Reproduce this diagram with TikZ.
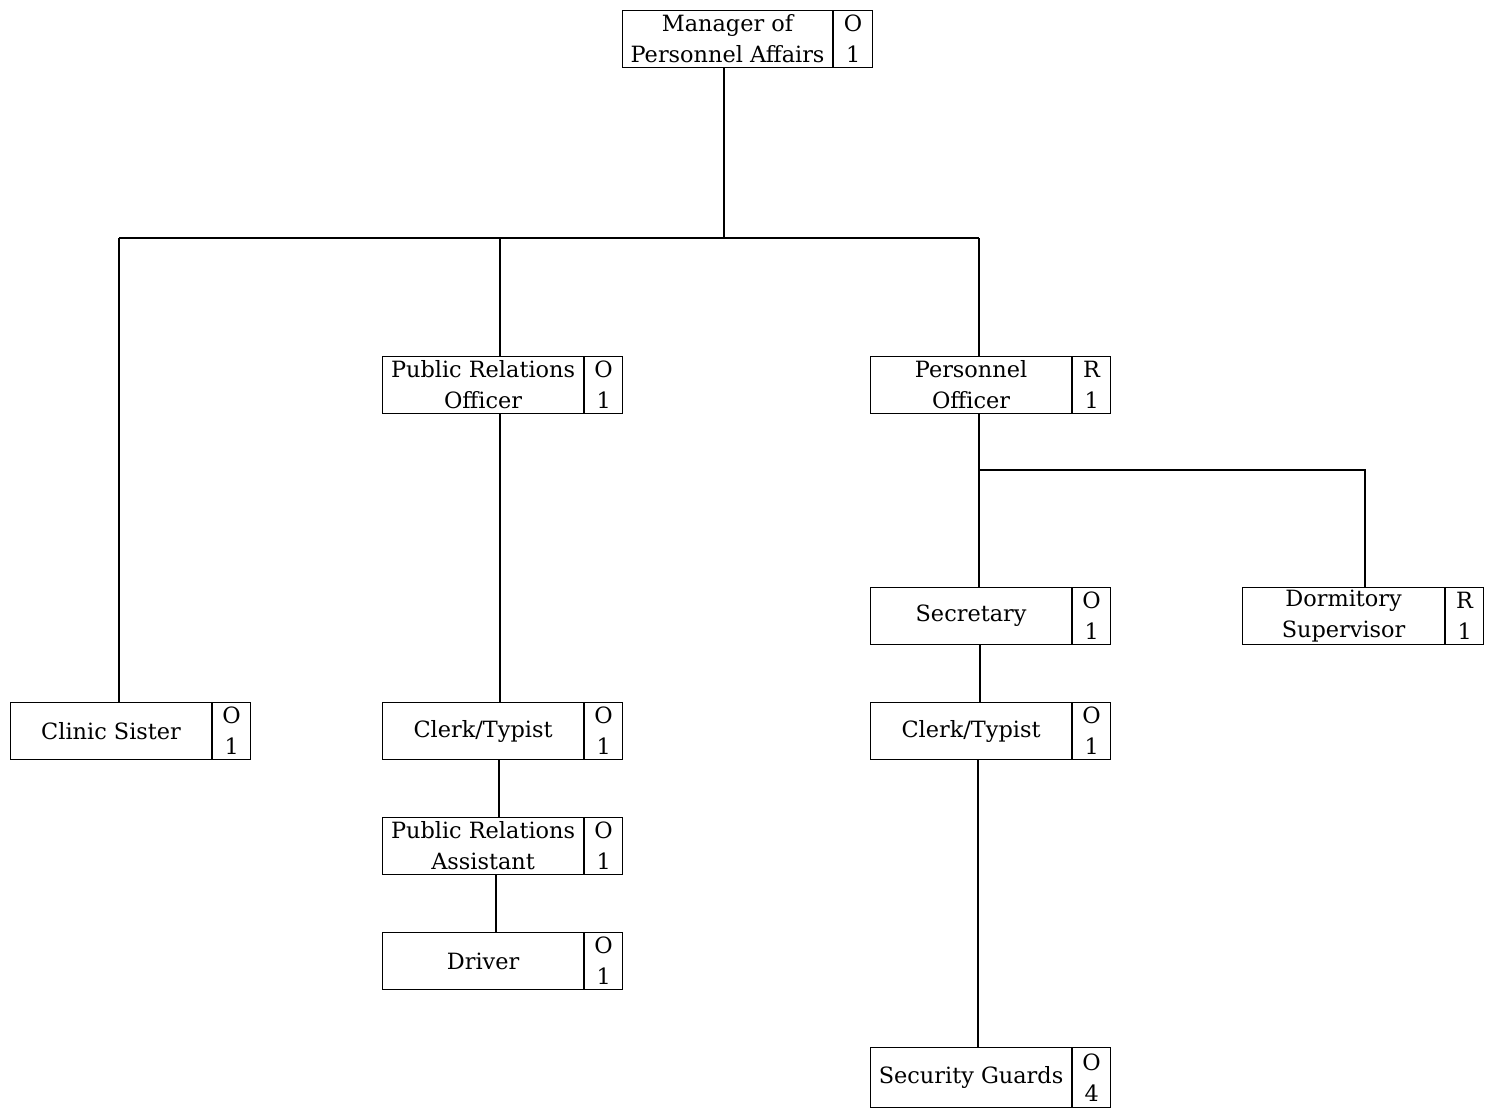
\documentclass[tikz,border=0pt]{standalone}
\usepackage{fontspec}
\setmainfont{DejaVu Serif}
\begin{document}
\begin{tikzpicture}[x=0.5pt,y=-0.5pt,
  cell/.style={draw, line width=0.55pt, anchor=north west, inner sep=0pt, align=center,
    minimum height=28.5pt, font=\fontsize{11.2}{15.5}\selectfont},
  namecell/.style={cell, minimum width=100.5pt},
  codecell/.style={cell, minimum width=19pt},
  conn/.style={line width=0.55pt}]
\useasboundingbox (0,0) rectangle (1486,1108);
% boxes
\node[namecell, minimum width=105pt] (mgr) at (622,10) {Manager of\\Personnel Affairs};
\node[codecell, minimum width=19.5pt] (mgrc) at (mgr.north east) {O\\1};
\node[namecell] (pro) at (382,356) {Public Relations\\Officer};
\node[codecell] (proc) at (pro.north east) {O\\1};
\node[namecell] (po) at (870,356) {Personnel\\Officer};
\node[codecell] (poc) at (po.north east) {R\\1};
\node[namecell] (cs) at (10,702) {Clinic Sister};
\node[codecell] (csc) at (cs.north east) {O\\1};
\node[namecell] (ct1) at (382,702) {Clerk/Typist};
\node[codecell] (ct1c) at (ct1.north east) {O\\1};
\node[namecell] (pra) at (382,817) {Public Relations\\Assistant};
\node[codecell] (prac) at (pra.north east) {O\\1};
\node[namecell] (drv) at (382,932) {Driver};
\node[codecell] (drvc) at (drv.north east) {O\\1};
\node[namecell] (sec) at (870,587) {Secretary};
\node[codecell] (secc) at (sec.north east) {O\\1};
\node[namecell, minimum width=101pt] (dorm) at (1242,587) {Dormitory\\Supervisor};
\node[codecell] (dormc) at (dorm.north east) {R\\1};
\node[namecell] (ct2) at (870,702) {Clerk/Typist};
\node[codecell] (ct2c) at (ct2.north east) {O\\1};
\node[namecell, minimum height=30pt] (sg) at (870,1047) {Security Guards};
\node[codecell, minimum height=30pt] (sgc) at (sg.north east) {O\\4};
% junctions
\coordinate (bus) at (724,238);
\coordinate (busL) at (119,238);
\coordinate (busM) at (500,238);
\coordinate (busR) at (979,238);
\coordinate (pobus) at (979,470);
\coordinate (pobusR) at (1365,470);
% connectors
\draw[conn] (mgr.south -| bus) -- (bus);
\draw[conn] (busL) -- (busR);
\draw[conn] (busL) -- (cs.north -| busL);
\draw[conn] (busM) -- (pro.north -| busM);
\draw[conn] (busR) -- (po.north -| busR);
\draw[conn] (pro.south -| busM) -- (ct1.north -| busM);
\draw[conn] (ct1.south -| 499,0) -- (pra.north -| 499,0);
\draw[conn] (pra.south -| 496,0) -- (drv.north -| 496,0);
\draw[conn] (po.south -| pobus) -- (pobus) -- (pobusR) -- (dorm.north -| pobusR);
\draw[conn] (pobus) -- (sec.north -| pobus);
\draw[conn] (sec.south -| 980,0) -- (ct2.north -| 980,0);
\draw[conn] (ct2.south -| 978,0) -- (sg.north -| 978,0);
\end{tikzpicture}
\end{document}
